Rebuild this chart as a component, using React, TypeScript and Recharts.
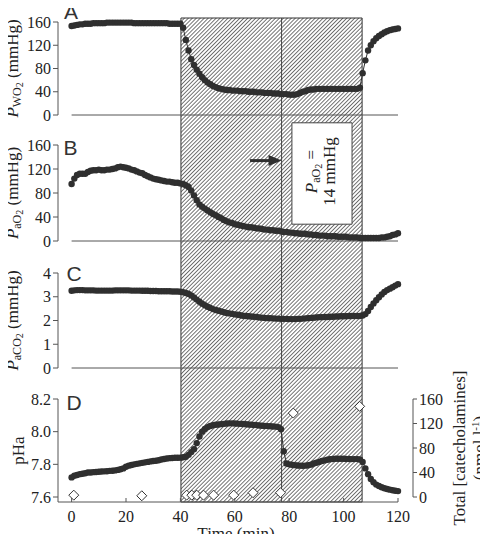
import React from 'react';
import {
  LineChart,
  ComposedChart,
  Line,
  Scatter,
  XAxis,
  YAxis,
  ReferenceArea,
  ReferenceLine,
} from 'recharts';

// sampling times (min)
const minutes = [
  0, 1, 2, 3, 4, 5, 6, 7, 8, 9,
  10, 11, 12, 13, 14, 15, 16, 17, 18, 19,
  20, 21, 22, 23, 24, 25, 26, 27, 28, 29,
  30, 31, 32, 33, 34, 35, 36, 37, 38, 39,
  40, 41, 42, 43, 44, 45, 46, 47, 48, 49,
  50, 51, 52, 53, 54, 55, 56, 57, 58, 59,
  60, 61, 62, 63, 64, 65, 66, 67, 68, 69,
  70, 71, 72, 73, 74, 75, 76, 77, 78, 79,
  80, 81, 82, 83, 84, 85, 86, 87, 88, 89,
  90, 91, 92, 93, 94, 95, 96, 97, 98, 99,
  100, 101, 102, 103, 104, 105, 106, 107, 108, 109,
  110, 111, 112, 113, 114, 115, 116, 117, 118, 119,
  120,
];

// A: water PO2 (mmHg)
const pwo2 = [
  153, 154, 155, 156, 156, 157, 157, 157, 158, 158,
  158, 158, 158, 159, 159, 159, 159, 159, 159, 159,
  159, 159, 159, 158, 158, 158, 158, 158, 158, 158,
  158, 158, 158, 158, 158, 158, 157, 157, 157, 157,
  157, 150, 129, 111, 96, 86, 78, 71, 65, 60,
  56, 53, 50, 48, 46, 45, 44, 43, 43, 42,
  42, 42, 41, 41, 41, 40, 40, 40, 39, 39,
  39, 38, 38, 38, 37, 37, 37, 36, 36, 36,
  35, 35, 35, 36, 38, 40, 41, 43, 44, 44,
  45, 45, 45, 45, 45, 45, 45, 45, 45, 45,
  45, 45, 45, 45, 45, 45, 47, 72, 94, 111,
  120, 127, 132, 136, 139, 142, 144, 146, 147, 148,
  149,
];

// B: arterial PO2 (mmHg)
const pao2 = [
  95, 104, 110, 112, 112, 112, 115, 117, 118, 118,
  119, 118, 118, 119, 119, 120, 121, 123, 124, 123,
  122, 121, 119, 118, 116, 114, 113, 110, 108, 106,
  104, 103, 102, 101, 100, 99, 99, 98, 97, 97,
  96, 95, 93, 90, 84, 76, 68, 61, 57, 54,
  51, 48, 45, 43, 40, 38, 35, 33, 31, 30,
  28, 27, 26, 25, 24, 23, 23, 22, 21, 21,
  20, 19, 19, 18, 18, 17, 17, 16, 15, 15,
  14, 14, 13, 13, 12, 12, 12, 11, 11, 10,
  10, 9, 9, 9, 8, 8, 8, 8, 7, 7,
  7, 7, 6, 6, 6, 6, 5, 5, 5, 5,
  5, 5, 5, 5, 6, 6, 7, 8, 10, 11,
  13,
];

// C: arterial PCO2 (mmHg)
const paco2 = [
  3.25, 3.27, 3.28, 3.28, 3.28, 3.27, 3.27, 3.27, 3.27, 3.26,
  3.26, 3.26, 3.26, 3.26, 3.26, 3.26, 3.27, 3.27, 3.27, 3.27,
  3.27, 3.27, 3.26, 3.26, 3.26, 3.26, 3.25, 3.25, 3.25, 3.24,
  3.24, 3.24, 3.23, 3.23, 3.23, 3.23, 3.23, 3.22, 3.22, 3.22,
  3.21, 3.19, 3.16, 3.12, 3.05, 2.97, 2.88, 2.79, 2.71, 2.64,
  2.58, 2.53, 2.48, 2.44, 2.41, 2.38, 2.35, 2.32, 2.3, 2.28,
  2.26, 2.24, 2.22, 2.2, 2.19, 2.18, 2.17, 2.16, 2.15, 2.13,
  2.12, 2.11, 2.1, 2.1, 2.09, 2.08, 2.08, 2.07, 2.07, 2.07,
  2.06, 2.06, 2.06, 2.07, 2.07, 2.08, 2.09, 2.1, 2.11, 2.12,
  2.13, 2.14, 2.14, 2.15, 2.15, 2.16, 2.16, 2.17, 2.17, 2.18,
  2.18, 2.18, 2.19, 2.19, 2.19, 2.19, 2.19, 2.21, 2.27, 2.4,
  2.57, 2.72, 2.85, 2.98, 3.1, 3.2, 3.28, 3.34, 3.4, 3.47,
  3.53,
];

// D: arterial pH
const pha = [
  7.72, 7.73, 7.735, 7.74, 7.742, 7.745, 7.75, 7.75, 7.752, 7.753,
  7.755, 7.756, 7.757, 7.758, 7.76, 7.761, 7.763, 7.766, 7.77, 7.775,
  7.785, 7.792, 7.796, 7.8, 7.803, 7.806, 7.809, 7.812, 7.815, 7.818,
  7.82, 7.822, 7.825, 7.83, 7.833, 7.836, 7.838, 7.839, 7.84, 7.84,
  7.841, 7.843, 7.846, 7.858, 7.875, 7.893, 7.93, 7.97, 8.0, 8.017,
  8.028, 8.035, 8.039, 8.042, 8.044, 8.046, 8.048, 8.05, 8.051, 8.051,
  8.05, 8.049, 8.048, 8.047, 8.045, 8.044, 8.043, 8.041, 8.04, 8.038,
  8.036, 8.035, 8.034, 8.033, 8.032, 8.031, 8.028, 8.015, 7.88, 7.805,
  7.8, 7.797, 7.795, 7.793, 7.792, 7.791, 7.792, 7.794, 7.798, 7.805,
  7.81, 7.815, 7.82, 7.824, 7.828, 7.831, 7.833, 7.834, 7.834, 7.834,
  7.834, 7.833, 7.833, 7.832, 7.832, 7.832, 7.83, 7.815, 7.775, 7.74,
  7.71, 7.69, 7.676, 7.667, 7.66, 7.654, 7.649, 7.645, 7.641, 7.638,
  7.636,
];

// D: total catecholamines (nmol l-1), discrete samples
const catTimes = [0.8, 25.8, 42.3, 44.2, 46.0, 48.5, 52.2, 59.6, 66.7, 76.8, 81.5, 105.9];
const catValues = [3, 2, 3, 3, 3, 3, 3, 3, 7, 7, 137, 148];

const timeTicks = [0, 20, 40, 60, 80, 100, 120];
const mmHgTicks = [0, 40, 80, 120, 160];
const co2Ticks = [0, 1, 2, 3, 4];
const phTicks = [7.6, 7.8, 8.0, 8.2];
const catTicks = [0, 40, 80, 120, 160];

// hypoxic exposure window and the mid-exposure switch
const hypoxiaStart = 40.2;
const hypoxiaEnd = 106.8;
const switchTime = 77.2;

// annotation in panel B
const arrowFrom = 65.6;
const arrowTo = 77.2;
const arrowLevel = 134;
const noteFrom = 81;
const noteTo = 103.1;
const noteLow = 28;
const noteHigh = 197;

const rows = minutes.map((t, i) => ({
  t,
  pwo2: pwo2[i],
  pao2: pao2[i],
  paco2: paco2[i],
  pha: pha[i],
}));
const catRows = catTimes.map((t, i) => ({ t, cat: catValues[i] }));

const W = 488;
const H = 542;
const X_DOMAIN = [-5, 120];
const serif = '"Liberation Serif", "Times New Roman", serif';
const sans = '"Liberation Sans", Arial, sans-serif';
const AXIS = '#555';
const INK = '#2f2f2f';
const tickStyle = { fill: '#222', fontSize: 16, fontFamily: serif };
const layer: React.CSSProperties = { position: 'absolute', left: 0, top: 0 };

const dotStyle = { r: 3.2, fill: INK, stroke: 'none' };

// rotated y-axis title at a fixed distance from the left edge
const axisTitle = (parts: React.ReactNode, cx: number) => (props: any) => {
  const vb = props.viewBox || {};
  const cy = vb.y + vb.height / 2;
  return (
    <text
      x={cx}
      y={cy}
      transform={`rotate(-90, ${cx}, ${cy})`}
      textAnchor="middle"
      fill="#222"
      fontSize={17}
      fontFamily={serif}
    >
      {parts}
    </text>
  );
};

const gasTitle = (sub: string) => [
  <tspan key="p" fontStyle="italic">P</tspan>,
  <tspan key="s" fontSize={12} dy={3}>{sub}</tspan>,
  <tspan key="2" fontSize={10} dy={2}>2</tspan>,
  <tspan key="u" dy={-5}> (mmHg)</tspan>,
];

const rightTitle = (props: any) => {
  const vb = props.viewBox || {};
  const cy = vb.y + vb.height / 2;
  const x1 = vb.x + 52;
  const x2 = vb.x + 72;
  const common = { textAnchor: 'middle' as const, fill: '#222', fontSize: 17, fontFamily: serif };
  return (
    <g>
      <text x={x1} y={cy} transform={`rotate(-90, ${x1}, ${cy})`} {...common}>
        Total [catecholamines]
      </text>
      <text x={x2} y={cy} transform={`rotate(-90, ${x2}, ${cy})`} {...common}>
        (nmol l<tspan fontSize={11} dy={-6}>-1</tspan>
        <tspan dy={6}>)</tspan>
      </text>
    </g>
  );
};

const timeTitle = (props: any) => {
  const vb = props.viewBox || {};
  return (
    <text x={vb.x + vb.width / 2 + 8} y={vb.y + 37} textAnchor="middle" fill="#222" fontSize={17} fontFamily={serif}>
      Time (min)
    </text>
  );
};

const noteLabel = (props: any) => {
  const vb = props.viewBox || {};
  const cx = vb.x + vb.width / 2;
  const cy = vb.y + vb.height / 2 - 2;
  const x1 = cx - 5;
  const x2 = cx + 13;
  const common = { textAnchor: 'middle' as const, fill: '#222', fontSize: 17, fontFamily: serif };
  return (
    <g>
      <text x={x1} y={cy} transform={`rotate(-90, ${x1}, ${cy})`} {...common}>
        <tspan fontStyle="italic">P</tspan>
        <tspan fontSize={12} dy={3}>aO</tspan>
        <tspan fontSize={10} dy={2}>2</tspan>
        <tspan dy={-5}> =</tspan>
      </text>
      <text x={x2} y={cy} transform={`rotate(-90, ${x2}, ${cy})`} {...common}>
        14 mmHg
      </text>
    </g>
  );
};

const Arrow = (props: any) => {
  const { x1, y1, x2, y2 } = props;
  const head = 13;
  return (
    <g>
      <line x1={x1} y1={y1} x2={x2 - head + 2} y2={y2} stroke={INK} strokeWidth={3} />
      <polygon points={`${x2},${y2} ${x2 - head},${y2 - 5.5} ${x2 - head},${y2 + 5.5}`} fill={INK} />
    </g>
  );
};

const Diamond = (props: any) => {
  const { cx, cy } = props;
  const s = 5;
  return (
    <polygon
      points={`${cx},${cy - s} ${cx + s},${cy} ${cx},${cy + s} ${cx - s},${cy}`}
      fill="#fff"
      stroke="#333"
      strokeWidth={1}
    />
  );
};

const letterStyle = { fill: '#333', fontSize: 21, fontFamily: sans };

// shared x axis for the upper three panels: ticks only, pointing up
const innerXAxis = (
  <XAxis
    dataKey="t"
    type="number"
    domain={X_DOMAIN}
    ticks={timeTicks}
    interval={0}
    height={1}
    axisLine={false}
    tick={false}
    tickSize={-4}
    tickLine={{ stroke: AXIS }}
  />
);

const baseline = (
  <ReferenceLine
    segment={[
      { x: timeTicks[0], y: 0 },
      { x: timeTicks[timeTicks.length - 1], y: 0 },
    ]}
    stroke={AXIS}
  />
);

export default function App() {
  return (
    <div style={{ position: 'relative', width: W, height: H, margin: -8, background: '#fff', overflow: 'hidden' }}>
      {/* hypoxia hatch spanning all panels */}
      <div style={layer}>
        <LineChart width={W} height={H} data={rows} margin={{ top: 18, right: 90, bottom: 40, left: 58 }}>
          <defs>
            <pattern id="hatch" patternUnits="userSpaceOnUse" width={2.8} height={2.8} patternTransform="rotate(45)">
              <rect width={2.8} height={2.8} fill="#fff" />
              <line x1={0} y1={0} x2={0} y2={2.8} stroke="#222" strokeWidth={1.25} />
            </pattern>
          </defs>
          <XAxis dataKey="t" type="number" domain={X_DOMAIN} hide />
          <YAxis hide />
          <Line dataKey="pwo2" stroke="none" dot={false} activeDot={false} isAnimationActive={false} />
          <ReferenceArea x1={hypoxiaStart} x2={hypoxiaEnd} fill="url(#hatch)" fillOpacity={1} stroke="#333" />
          <ReferenceLine x={switchTime} stroke="#444" />
        </LineChart>
      </div>

      {/* catecholamines on their own right-hand axis */}
      <div style={layer}>
        <ComposedChart width={W} height={H} data={catRows} margin={{ top: 399, right: 0, bottom: 45, left: 58 }}>
          <XAxis dataKey="t" type="number" domain={X_DOMAIN} padding={{ left: 0, right: 15 }} hide />
          <YAxis
            orientation="right"
            domain={[0, 160]}
            ticks={catTicks}
            interval={0}
            width={75}
            tickSize={4}
            tickMargin={2}
            axisLine={{ stroke: AXIS }}
            tickLine={{ stroke: AXIS }}
            tick={tickStyle}
            label={rightTitle}
          />
          <Scatter dataKey="cat" shape={Diamond} isAnimationActive={false} />
        </ComposedChart>
      </div>

      {/* A */}
      <div style={layer}>
        <LineChart width={W} height={H} data={rows} margin={{ top: 22, right: 90, bottom: 426, left: 0 }}>
          {innerXAxis}
          <YAxis
            domain={[0, 160]}
            ticks={mmHgTicks}
            interval={0}
            width={58}
            tickSize={5}
            tickMargin={2}
            axisLine={{ stroke: AXIS }}
            tickLine={{ stroke: AXIS }}
            tick={tickStyle}
            label={axisTitle(gasTitle('WO'), 18)}
          />
          {baseline}
          <Line type="linear" dataKey="pwo2" stroke={INK} strokeWidth={1} dot={dotStyle} activeDot={false} isAnimationActive={false} />
          <text x={64} y={18.5} {...letterStyle}>A</text>
        </LineChart>
      </div>

      {/* B */}
      <div style={layer}>
        <LineChart width={W} height={H} data={rows} margin={{ top: 145, right: 90, bottom: 300, left: 0 }}>
          {innerXAxis}
          <YAxis
            domain={[0, 160]}
            ticks={mmHgTicks}
            interval={0}
            width={58}
            tickSize={5}
            tickMargin={2}
            axisLine={{ stroke: AXIS }}
            tickLine={{ stroke: AXIS }}
            tick={tickStyle}
            label={axisTitle(gasTitle('aO'), 18)}
          />
          {baseline}
          <ReferenceArea
            x1={noteFrom}
            x2={noteTo}
            y1={noteLow}
            y2={noteHigh}
            ifOverflow="visible"
            fill="#fff"
            fillOpacity={1}
            stroke="#444"
            label={noteLabel}
          />
          <ReferenceLine
            segment={[
              { x: arrowFrom, y: arrowLevel },
              { x: arrowTo, y: arrowLevel },
            ]}
            shape={Arrow}
          />
          <Line type="linear" dataKey="pao2" stroke={INK} strokeWidth={1} dot={dotStyle} activeDot={false} isAnimationActive={false} />
          <text x={63.5} y={155} {...letterStyle}>B</text>
        </LineChart>
      </div>

      {/* C */}
      <div style={layer}>
        <LineChart width={W} height={H} data={rows} margin={{ top: 273, right: 90, bottom: 173, left: 0 }}>
          {innerXAxis}
          <YAxis
            domain={[0, 4]}
            ticks={co2Ticks}
            interval={0}
            width={58}
            tickSize={5}
            tickMargin={2}
            axisLine={{ stroke: AXIS }}
            tickLine={{ stroke: AXIS }}
            tick={tickStyle}
            label={axisTitle(gasTitle('aCO'), 18)}
          />
          {baseline}
          <Line type="linear" dataKey="paco2" stroke={INK} strokeWidth={1} dot={dotStyle} activeDot={false} isAnimationActive={false} />
          <text x={66.5} y={281} {...letterStyle}>C</text>
        </LineChart>
      </div>

      {/* D */}
      <div style={layer}>
        <LineChart width={W} height={H} data={rows} margin={{ top: 399, right: 90, bottom: 0, left: 0 }}>
          <XAxis
            dataKey="t"
            type="number"
            domain={X_DOMAIN}
            ticks={timeTicks}
            interval={0}
            height={40}
            tickSize={-4}
            tickMargin={13}
            axisLine={{ stroke: AXIS }}
            tickLine={{ stroke: AXIS }}
            tick={tickStyle}
            label={timeTitle}
          />
          <YAxis
            domain={[7.6, 8.2]}
            ticks={phTicks}
            interval={0}
            padding={{ top: 0, bottom: 5 }}
            width={58}
            tickSize={5}
            tickMargin={2}
            tickFormatter={(v: number) => v.toFixed(1)}
            axisLine={{ stroke: AXIS }}
            tickLine={{ stroke: AXIS }}
            tick={tickStyle}
            label={axisTitle('pHa', 24)}
          />
          <Line type="linear" dataKey="pha" stroke={INK} strokeWidth={1} dot={dotStyle} activeDot={false} isAnimationActive={false} />
          <text x={66.5} y={410} {...letterStyle}>D</text>
        </LineChart>
      </div>
    </div>
  );
}
